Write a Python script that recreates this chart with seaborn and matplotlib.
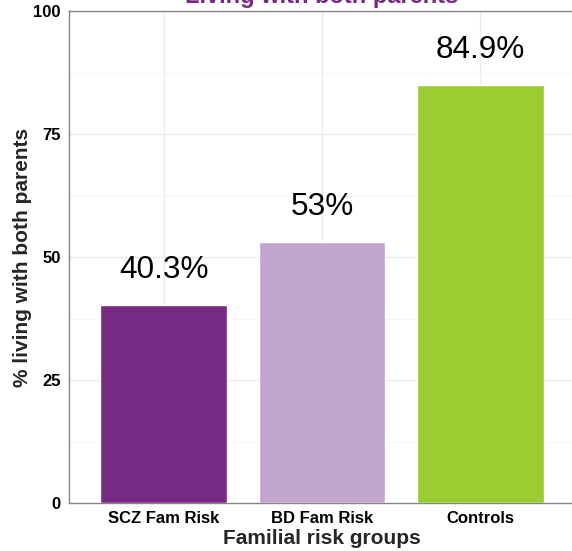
import matplotlib
matplotlib.use("Agg")
import matplotlib.pyplot as plt
import seaborn as sns
import pandas as pd

groups = ["SCZ Fam Risk", "BD Fam Risk", "Controls"]
pct_both_parents = [40.3, 53.0, 84.9]
value_labels = ["40.3%", "53%", "84.9%"]
bar_colors = ["#762A83", "#C2A5CF", "#9ACD32"]
y_ticks = [0, 25, 50, 75, 100]

sns.set_theme(style="white")
plt.rcParams["font.family"] = ["Liberation Sans", "DejaVu Sans"]

df = pd.DataFrame({"group": groups, "pct": pct_both_parents})

W, H = 572, 551
fig = plt.figure(figsize=(W / 100, H / 100), dpi=100)
x0, x1 = 68.5, 575.4
y0, y1 = 503, 11
ax = fig.add_axes([x0 / W, (H - y0) / H, (x1 - x0) / W, (y0 - y1) / H])

sns.barplot(data=df, x="group", y="pct", hue="group", order=groups,
            palette=bar_colors, width=0.8, saturation=1, legend=False, ax=ax,
            zorder=3)

ax.set_xlim(-0.6, 2.6)
ax.set_ylim(0, 100)
ax.set_yticks(y_ticks)
ax.set_yticks([12.5, 37.5, 62.5, 87.5], minor=True)

ax.grid(True, which="major", color="#ebebeb", linewidth=1.0, zorder=0)
ax.grid(True, which="minor", axis="y", color="#f4f4f4", linewidth=0.6, zorder=0)
ax.set_axisbelow(True)

for sp in ax.spines.values():
    sp.set_color("#858585")
    sp.set_linewidth(1.0)
    sp.set_visible(True)

ax.tick_params(axis="both", which="major", length=3.5, width=1.0, color="#858585",
               direction="out", labelsize=12, labelcolor="black", pad=2)
ax.tick_params(axis="both", which="minor", length=0)
for lbl in ax.get_xticklabels() + ax.get_yticklabels():
    lbl.set_fontweight("bold")

ax.set_xlabel("Familial risk groups", fontsize=15, fontweight="bold", labelpad=2.2)
ax.set_ylabel("% living with both parents", fontsize=15, fontweight="bold", labelpad=1)

for i, (v, t) in enumerate(zip(pct_both_parents, value_labels)):
    ax.annotate(t, xy=(i, v), xytext=(0, 19.5), textcoords="offset points",
                ha="center", va="baseline", fontsize=22.7, color="black")

fig.text(322 / W, (H - 2.5) / H, "Living with both parents", ha="center",
         va="baseline", fontsize=17, fontweight="bold", color="#762A83")

fig.savefig("out.png", dpi=100)
